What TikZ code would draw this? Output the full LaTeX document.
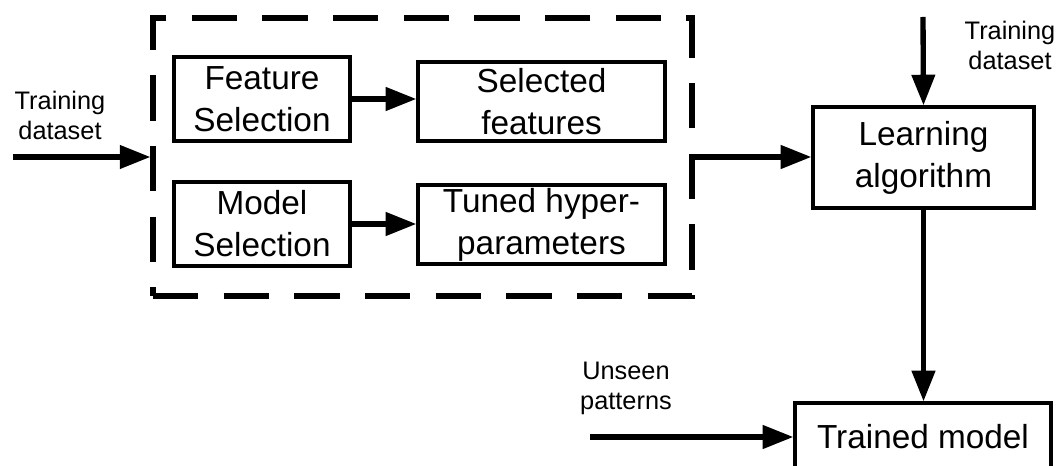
\documentclass[tikz,border=0pt]{standalone}
\usepackage{fontspec}
\setmainfont{Liberation Sans}
\usetikzlibrary{arrows.meta,positioning}

\tikzset{
  blockbox/.style={draw, line width=2.4pt, align=center, inner sep=0pt,
    font=\fontsize{25}{31.5}\selectfont},
  inlabel/.style={align=center, inner sep=0pt, font=\fontsize{19}{22.5}\selectfont},
  flow/.style={line width=4pt, -{Triangle[length=23pt,width=17pt]}},
  selframe/.style={draw, line width=3.8pt, dash pattern=on 34pt off 19pt,
    minimum width=539*0.75pt, minimum height=278*0.75pt, inner sep=0pt}
}

\begin{document}
\begin{tikzpicture}[x=0.75pt,y=-0.75pt]
  \clip (0,0) rectangle (1064,466);
  \useasboundingbox (0,0) rectangle (1064,466);
  % dashed selection frame
  \node[selframe] (sel) at (422.5,157) {};
  % boxes inside the frame
  \node[blockbox, minimum width=176*0.75pt, minimum height=84*0.75pt] (fs) at (262,99) {Feature\\Selection};
  \node[blockbox, minimum width=176*0.75pt, minimum height=84*0.75pt] (ms) at (262,224) {Model\\Selection};
  \node[blockbox, minimum width=247*0.75pt, minimum height=79*0.75pt] (sf) at (541.5,101.5) {Selected\\features};
  \node[blockbox, minimum width=247*0.75pt, minimum height=79*0.75pt] (th) at (541.5,224.5) {Tuned hyper-\\parameters};
  % right column
  \node[blockbox, minimum width=221*0.75pt, minimum height=101*0.75pt] (la) at (923.5,157.5) {Learning\\algorithm};
  \node[blockbox, minimum width=256*0.75pt, minimum height=68*0.75pt] (tm) at (923,437) {Trained model};
  % input labels
  \node[inlabel] (tdleft) at (60,115) {Training\\dataset};
  \node[inlabel] (tdtop) at (1010,45) {Training\\dataset};
  \node[inlabel] (unseen) at (626,388) {Unseen\\patterns};
  \coordinate (inleft) at (13,157);
  \coordinate (intop) at (923,17);
  \coordinate (inunseen) at (590,437);
  % connectors
  \draw[flow] (inleft) -- (sel.west);
  \draw[flow] (fs.east) -- (fs.east -| sf.west);
  \draw[flow] (ms.east) -- (ms.east -| th.west);
  \draw[flow] (sel.east) -- (sel.east -| la.west);
  \draw[flow] (intop) -- (la.north);
  \draw[flow] (la.south) -- (la.south |- tm.north);
  \draw[flow] (inunseen) -- (tm.west);
\end{tikzpicture}
\end{document}
